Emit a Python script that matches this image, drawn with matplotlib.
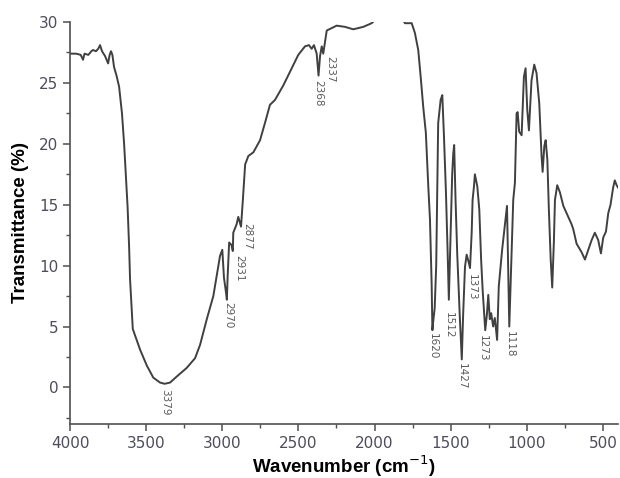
import matplotlib.pyplot as plt
from matplotlib.ticker import MultipleLocator

# DATA =================================================================================================================

WAVENUMBER = [
    4000, 3960, 3930, 3915, 3905, 3880, 3860, 3849, 3830, 3815, 3803, 3790, 3770, 3750, 3740, 3731, 3722, 3711,
    3695, 3678, 3659, 3645, 3632, 3622, 3612, 3606, 3588, 3540, 3496, 3453, 3409, 3379, 3343, 3299, 3234, 3179,
    3146, 3102, 3059, 3015, 3000, 2989, 2978, 2970, 2965, 2955, 2940, 2931, 2928, 2906, 2895, 2877, 2866, 2850,
    2829, 2796, 2752, 2720, 2687, 2654, 2599, 2544, 2501, 2457, 2431, 2413, 2398, 2380, 2368, 2358, 2347, 2337,
    2314, 2249, 2194, 2140, 2074, 2019, 1960, 1880, 1820, 1800, 1756, 1735, 1713, 1697, 1680, 1663, 1647, 1636,
    1625, 1620, 1614, 1605, 1595, 1587, 1582, 1566, 1555, 1544, 1531, 1520, 1512, 1500, 1490, 1483, 1477, 1468,
    1457, 1440, 1427, 1418, 1406, 1395, 1380, 1373, 1362, 1356, 1347, 1341, 1325, 1312, 1300, 1290, 1280, 1273,
    1262, 1253, 1243, 1234, 1221, 1210, 1195, 1184, 1162, 1140, 1130, 1124, 1115, 1100, 1089, 1078, 1067, 1060,
    1050, 1034, 1019, 1008, 997, 986, 969, 951, 936, 918, 903, 896, 885, 876, 865, 855, 843, 833, 822, 815,
    800, 782, 760, 728, 706, 695, 673, 640, 618, 596, 574, 553, 531, 513, 498, 480, 465, 450, 433, 422, 410, 400,
]
TRANSMITTANCE = [
    27.4, 27.4, 27.3, 26.9, 27.4, 27.3, 27.6, 27.7, 27.6, 27.8, 28.1, 27.6, 27.2, 26.6, 27.3, 27.6, 27.3, 26.3,
    25.6, 24.7, 22.5, 20.0, 17.0, 14.8, 11.5, 8.9, 4.8, 3.1, 1.8, 0.8, 0.4, 0.3, 0.4, 0.9, 1.6, 2.4,
    3.5, 5.6, 7.5, 10.8, 11.3, 9.0, 8.0, 7.2, 9.1, 11.9, 11.7, 11.2, 12.7, 13.4, 14.0, 13.2, 15.2, 18.3,
    19.0, 19.3, 20.3, 21.7, 23.2, 23.6, 24.8, 26.2, 27.3, 28.0, 28.1, 27.8, 28.1, 27.4, 25.6, 27.2, 28.0, 27.4,
    29.3, 29.7, 29.6, 29.4, 29.6, 29.9, 30.6, 31.0, 30.3, 29.9, 29.9, 29.1, 27.7, 25.5, 23.0, 20.9, 16.5, 13.8,
    8.5, 4.7, 5.5, 6.5, 10.0, 17.0, 21.7, 23.6, 24.0, 20.6, 16.0, 11.1, 7.2, 13.0, 17.5, 19.2, 19.9, 15.4,
    11.0, 5.8, 2.3, 6.0, 9.9, 10.9, 10.2, 9.8, 12.7, 15.4, 16.5, 17.5, 16.5, 14.6, 10.5, 8.0, 6.0, 4.7,
    6.0, 7.6, 5.6, 6.1, 5.0, 5.7, 3.9, 8.3, 11.3, 13.8, 14.9, 11.0, 5.0, 11.0, 15.4, 16.8, 22.5, 22.6,
    21.0, 20.7, 25.5, 26.2, 22.8, 21.1, 25.2, 26.5, 25.8, 23.3, 19.0, 17.7, 19.8, 20.3, 18.7, 14.6, 10.5, 8.2, 12.0, 15.4,
    16.6, 16.0, 14.9, 14.0, 13.4, 13.0, 11.8, 11.1, 10.5, 11.3, 12.1, 12.7, 12.1, 11.0, 12.3, 12.8, 14.3, 15.0, 16.4, 17.0, 16.6, 16.4,
]

PEAK_LABELS = ["3379", "2970", "2931", "2877", "2368", "2337", "1620", "1512", "1427", "1373", "1273", "1118"]
PEAK_LABEL_X = [3376, 2963, 2890, 2838, 2370, 2293, 1616, 1511, 1426, 1360, 1288, 1111]
PEAK_LABEL_Y = [-0.15, 7.0, 10.9, 13.5, 25.2, 27.2, 4.5, 6.2, 2.0, 9.3, 4.3, 4.6]

# PLOTTING =============================================================================================================

AXIS_GREY = "#505050"
TICK_TEXT = "#4d4d5c"

fig = plt.figure(figsize=(6.2, 4.78), dpi=100)
ax = fig.add_axes([0.113, 0.113, 0.884, 0.841])

ax.plot(WAVENUMBER, TRANSMITTANCE, color="#404040", linewidth=1.4)

for text, x, y in zip(PEAK_LABELS, PEAK_LABEL_X, PEAK_LABEL_Y):
    ax.text(x, y, text, rotation=270, ha="center", va="top", fontsize=7.5, color="#5a5a5a",
            family="Liberation Sans Narrow")

ax.set_xlim(4000, 400)
ax.set_ylim(-3, 30)
ax.xaxis.set_major_locator(MultipleLocator(500))
ax.xaxis.set_minor_locator(MultipleLocator(250))
ax.yaxis.set_major_locator(MultipleLocator(5))
ax.yaxis.set_minor_locator(MultipleLocator(2.5))

for side in ("top", "right"):
    ax.spines[side].set_visible(False)
for side in ("left", "bottom"):
    ax.spines[side].set_color(AXIS_GREY)
    ax.spines[side].set_linewidth(1.2)

ax.tick_params(which="major", direction="out", length=5, width=1.1, color=AXIS_GREY,
               labelsize=11, labelcolor=TICK_TEXT)
ax.tick_params(which="minor", direction="out", length=3, width=1.0, color=AXIS_GREY)
for label in ax.get_xticklabels() + ax.get_yticklabels():
    label.set_family("DejaVu Sans")

ax.set_xlabel("Wavenumber (cm$^{-1}$)", fontsize=13.5, fontweight="bold", family="Liberation Sans", labelpad=2)
ax.set_ylabel("Transmittance (%)", fontsize=13.5, fontweight="bold", family="Liberation Sans", labelpad=7)

fig.savefig("out.png", dpi=100)
